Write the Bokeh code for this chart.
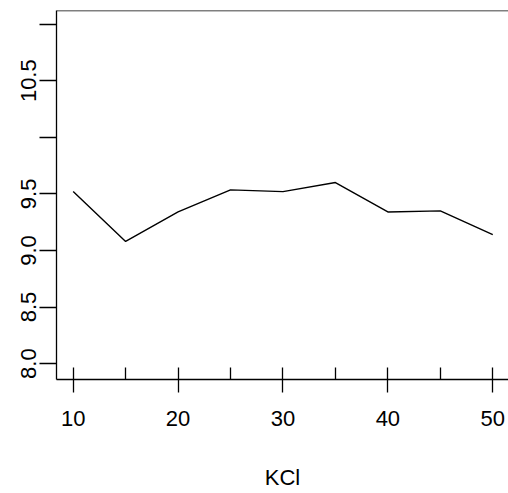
from bokeh.plotting import figure
from bokeh.models import FixedTicker, Range1d, Span
from bokeh.embed import file_html
from bokeh.resources import INLINE

# Data
kcl = [10, 15, 20, 25, 30, 35, 40, 45, 50]
values = [9.52, 9.08, 9.34, 9.535, 9.52, 9.60, 9.34, 9.35, 9.14]

x_major_ticks = [10, 20, 30, 40, 50]
x_minor_ticks = [15, 25, 35, 45]
y_ticks = [8.0, 8.5, 9.0, 9.5, 10.0, 10.5, 11.0]
y_tick_labels = ["8.0", "8.5", "9.0", "9.5", "", "10.5", ""]

FONT = "Liberation Sans"
FS = "22px"

p = figure(width=508, height=493, output_backend="svg", toolbar_location=None,
           x_range=Range1d(8.41, 51.5), y_range=Range1d(7.86, 11.12),
           min_border_left=56, min_border_right=0, min_border_top=10,
           min_border_bottom=114)
p.background_fill_color = "white"
p.border_fill_color = "white"
p.outline_line_color = None
p.grid.visible = False

p.line(kcl, values, line_color="black", line_width=1.4)

# top border line
p.add_layout(Span(location=p.y_range.end, dimension="width",
                  line_color="black", line_width=1.3))

xa = p.xaxis[0]
xa.ticker = FixedTicker(ticks=x_major_ticks, minor_ticks=x_minor_ticks)
xa.axis_line_color = "black"
xa.axis_line_width = 1.3
xa.major_tick_line_width = 1.3
xa.minor_tick_line_width = 1.3
xa.major_tick_in = 12
xa.major_tick_out = 13
xa.minor_tick_in = 12
xa.minor_tick_out = 0
xa.major_label_text_font = FONT
xa.major_label_text_font_size = FS
xa.major_label_text_color = "black"
xa.major_label_standoff = 18
xa.axis_label = "KCl"
xa.axis_label_text_font = FONT
xa.axis_label_text_font_size = FS
xa.axis_label_text_font_style = "normal"
xa.axis_label_text_color = "black"
xa.axis_label_standoff = 36

ya = p.yaxis[0]
ya.ticker = FixedTicker(ticks=y_ticks, minor_ticks=[])
ya.major_label_overrides = {t: lab for t, lab in zip(y_ticks, y_tick_labels)}
ya.axis_line_color = "black"
ya.axis_line_width = 1.3
ya.major_tick_line_width = 1.3
ya.major_tick_in = 0
ya.major_tick_out = 17
ya.minor_tick_line_color = None
ya.major_label_orientation = "vertical"
ya.major_label_text_font = FONT
ya.major_label_text_font_size = FS
ya.major_label_text_color = "black"
ya.major_label_standoff = 3

open("out.html", "w").write(file_html(p, INLINE))
